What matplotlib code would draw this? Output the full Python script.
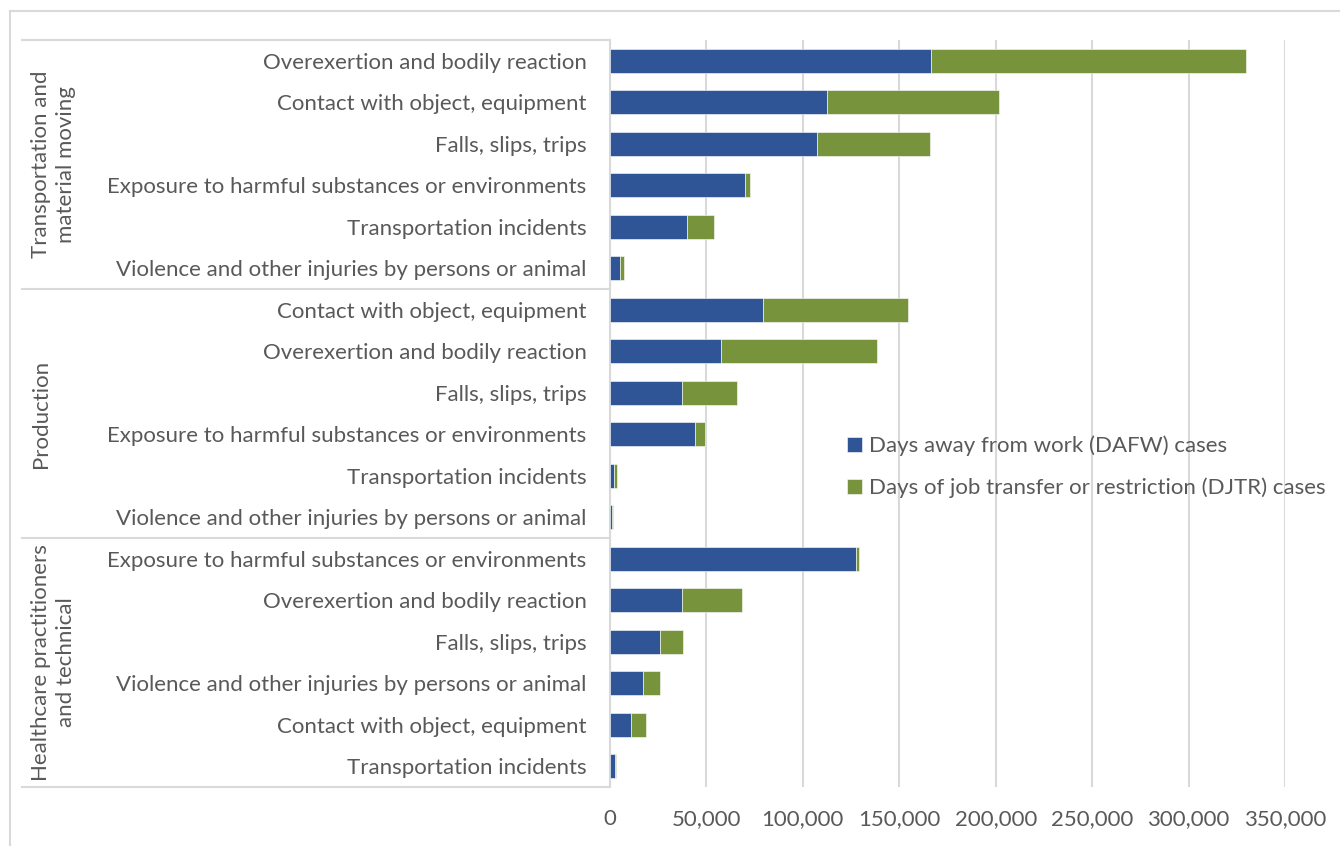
import matplotlib
matplotlib.use("Agg")
import matplotlib.pyplot as plt
from matplotlib.lines import Line2D
import numpy as np

plt.rcParams['font.family'] = ['Lato', 'DejaVu Sans']

# groups (top to bottom) and their causes
groups = ["Transportation and\nmaterial moving", "Production",
          "Healthcare practitioners\nand technical"]
causes = [
    ["Overexertion and bodily reaction", "Contact with object, equipment",
     "Falls, slips, trips", "Exposure to harmful substances or environments",
     "Transportation incidents", "Violence and other injuries by persons or animal"],
    ["Contact with object, equipment", "Overexertion and bodily reaction",
     "Falls, slips, trips", "Exposure to harmful substances or environments",
     "Transportation incidents", "Violence and other injuries by persons or animal"],
    ["Exposure to harmful substances or environments", "Overexertion and bodily reaction",
     "Falls, slips, trips", "Violence and other injuries by persons or animal",
     "Contact with object, equipment", "Transportation incidents"],
]
dafw = [
    [166200, 112400, 107200, 70000, 39900, 5000],
    [79300, 57800, 37200, 43900, 2300, 1000],
    [127800, 37500, 25700, 17000, 11100, 2800],
]
djtr = [
    [163800, 89400, 58800, 2700, 14100, 2400],
    [75400, 80900, 28600, 5600, 1500, 700],
    [1400, 30700, 12000, 9000, 7800, 500],
]

blue = "#2F5597"
green = "#77933C"
grey = "#595959"
W, H = 1340, 846
fs = 16

labels = [c for g in causes for c in g]
v1 = np.array([v for g in dafw for v in g])
v2 = np.array([v for g in djtr for v in g])
y = np.arange(len(labels))

fig = plt.figure(figsize=(W / 100, H / 100), dpi=100)
left, right, top, bottom = 610, 1285, 40, 787
ax = fig.add_axes([left / W, 1 - bottom / H, (right - left) / W, (bottom - top) / H])

ax.barh(y, v1, height=0.59, color=blue, edgecolor="white", linewidth=0.4,
        label="Days away from work (DAFW) cases", zorder=3)
ax.barh(y, v2, left=v1, height=0.59, color=green, edgecolor="white", linewidth=0.4,
        label="Days of job transfer or restriction (DJTR) cases", zorder=3)

ax.set_xlim(0, 350000)
ax.set_ylim(len(labels) - 0.5, -0.5)
ax.set_xticks(np.arange(0, 350001, 50000))
ax.set_xticklabels([f"{int(t):,}" for t in ax.get_xticks()], color=grey, fontsize=fs)
ax.tick_params(axis='x', length=0, pad=16)
ax.set_yticks(y)
ax.set_yticklabels(labels, color=grey, fontsize=fs)
ax.tick_params(axis='y', length=0, pad=17)
ax.grid(axis='x', color="#D9D9D9", linewidth=1.5, zorder=0)
for s in ["top", "right", "bottom"]:
    ax.spines[s].set_visible(False)
ax.spines["left"].set_color("#D9D9D9")
ax.spines["left"].set_linewidth(1.5)

# category table lines and group labels
row_h = (bottom - top) / len(labels)
for k in range(len(groups) + 1):
    yy = top + k * 6 * row_h
    fig.add_artist(Line2D([22 / W, left / W], [1 - yy / H, 1 - yy / H],
                          color="#D9D9D9", linewidth=1.5))
for k, g in enumerate(groups):
    yc = top + (k * 6 + 3) * row_h
    fig.text(31 / W, 1 - yc / H, g, rotation=90, ha='left', va='center',
             color=grey, fontsize=fs, multialignment='center', linespacing=1.3)

# chart border
fig.add_artist(Line2D([10 / W, 1], [1 - 11 / H, 1 - 11 / H], color="#D9D9D9", linewidth=1.5))
fig.add_artist(Line2D([10 / W, 10 / W], [0, 1 - 11 / H], color="#D9D9D9", linewidth=1.5))

leg = ax.legend(loc='upper left', bbox_to_anchor=((838 - left) / (right - left), 1 - (427 - top) / (bottom - top)),
                frameon=False, fontsize=fs, handlelength=0.7, handleheight=0.7,
                handletextpad=0.3, labelspacing=0.95, borderaxespad=0)
for t in leg.get_texts():
    t.set_color(grey)

fig.savefig("out.png", dpi=100, facecolor="white")
